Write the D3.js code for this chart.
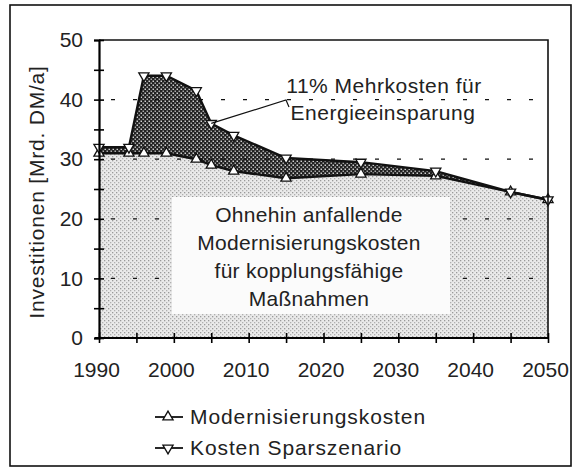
<!DOCTYPE html>
<html>
<head>
<meta charset="utf-8">
<script src="https://cdn.jsdelivr.net/npm/d3@7"></script>
<style>
  body { margin: 0; background: #fff; }
  text { font-family: "Liberation Sans", Arial, sans-serif; fill: #222; }
</style>
</head>
<body>
<svg width="573" height="468"></svg>
<script>
// values
var years = [1990, 1994, 1996, 1999, 2003, 2005, 2008, 2015, 2025, 2035, 2045, 2050];
var modernisierung = [31, 31, 31, 31, 30, 29, 28, 26.8, 27.5, 27.2, 24.5, 23.2];
var sparszenario = [32, 32, 44, 44, 41.5, 36, 34, 30.2, 29.5, 28, 24.5, 23.2];
var yTicks = [0, 10, 20, 30, 40, 50];
var xTicks = [1990, 2000, 2010, 2020, 2030, 2040, 2050];
var seriesNames = ['Modernisierungskosten', 'Kosten Sparszenario'];

var FONT = '"Liberation Sans", Arial, sans-serif';
var svg = d3.select('svg');

var x = d3.scaleLinear().domain([1990, 2050]).range([99, 548]);
var y = d3.scaleLinear().domain([0, 50]).range([338, 40]);

var data = years.map((yr, i) => ({year: yr, mod: modernisierung[i], spar: sparszenario[i]}));

// patterns
var defs = svg.append('defs');
var light = defs.append('pattern').attr('id', 'light')
    .attr('width', 4).attr('height', 4).attr('patternUnits', 'userSpaceOnUse');
light.append('rect').attr('width', 4).attr('height', 4).attr('fill', '#eaeaea');
light.append('rect').attr('x', 0).attr('y', 0).attr('width', 1.3).attr('height', 1.3).attr('fill', '#999');
light.append('rect').attr('x', 2).attr('y', 2).attr('width', 1.3).attr('height', 1.3).attr('fill', '#b0b0b0');

var dark = defs.append('pattern').attr('id', 'dark')
    .attr('width', 4).attr('height', 4).attr('patternUnits', 'userSpaceOnUse');
dark.append('rect').attr('width', 4).attr('height', 4).attr('fill', '#222');
dark.append('rect').attr('x', 0.5).attr('y', 0.5).attr('width', 1.5).attr('height', 1.5).attr('fill', '#d0d0d0');
dark.append('rect').attr('x', 2.5).attr('y', 2.5).attr('width', 1.5).attr('height', 1.5).attr('fill', '#aaa');

// outer frame
svg.append('rect')
    .attr('x', 10).attr('y', 5).attr('width', 561).attr('height', 461)
    .attr('fill', 'none').attr('stroke', '#111').attr('stroke-width', 1.6);

// lower area
svg.append('path')
    .datum(data)
    .attr('fill', 'url(#light)')
    .attr('d', d3.area().x((d) => x(d.year)).y0(y(0)).y1((d) => y(d.mod)));

// extra cost band
svg.append('path')
    .datum(data)
    .attr('fill', 'url(#dark)')
    .attr('d', d3.area().x((d) => x(d.year)).y0((d) => y(d.mod)).y1((d) => y(d.spar)));

// dashed grid
svg.append('g')
    .selectAll('line')
    .data([10, 20, 30, 40])
    .enter()
    .append('line')
        .attr('x1', x(1990)).attr('x2', x(2050))
        .attr('y1', (d) => y(d)).attr('y2', (d) => y(d))
        .attr('stroke', '#111').attr('stroke-width', 1.3)
        .attr('stroke-dasharray', '4,18')
        .attr('stroke-dashoffset', -12);

// white text box
svg.append('rect')
    .attr('x', 172).attr('y', 197).attr('width', 278).attr('height', 117)
    .attr('fill', '#fbfbfb');

// lines
var lineMod = d3.line().x((d) => x(d.year)).y((d) => y(d.mod));
var lineSpar = d3.line().x((d) => x(d.year)).y((d) => y(d.spar));
svg.append('path').datum(data).attr('d', lineMod)
    .attr('fill', 'none').attr('stroke', '#111').attr('stroke-width', 2.4);
svg.append('path').datum(data).attr('d', lineSpar)
    .attr('fill', 'none').attr('stroke', '#111').attr('stroke-width', 2.4);

var triUp = d3.symbol().type(d3.symbolTriangle).size(45);
svg.append('g').selectAll('path')
    .data(data).enter().append('path')
        .attr('d', triUp)
        .attr('transform', (d) => 'translate(' + x(d.year) + ',' + y(d.mod) + ')')
        .attr('fill', '#fff').attr('stroke', '#111').attr('stroke-width', 1.3);
svg.append('g').selectAll('path')
    .data(data).enter().append('path')
        .attr('d', triUp)
        .attr('transform', (d) => 'translate(' + x(d.year) + ',' + y(d.spar) + ') rotate(180)')
        .attr('fill', '#fff').attr('stroke', '#111').attr('stroke-width', 1.3);

// plot frame top/right
svg.append('path')
    .attr('d', 'M' + x(1990) + ',' + y(50) + 'H' + x(2050) + 'V' + y(0))
    .attr('fill', 'none').attr('stroke', '#111').attr('stroke-width', 1.6);

// axes
var yAxis = svg.append('g')
    .attr('transform', 'translate(' + x(1990) + ',0)')
    .call(d3.axisLeft(y).tickValues(d3.range(0, 51, 5)).tickSize(5).tickFormat((d) => yTicks.includes(d) ? d : ''));
yAxis.selectAll('.tick line').attr('x2', 5).attr('x1', -5).attr('stroke-width', 1.6);
yAxis.select('.domain').attr('stroke-width', 2.2);
yAxis.selectAll('text').attr('x', -16).attr('font-size', 21).attr('font-family', FONT).attr('fill', '#222');

var xAxis = svg.append('g')
    .attr('transform', 'translate(0,' + y(0) + ')')
    .call(d3.axisBottom(x).tickValues(d3.range(1990, 2051, 5)).tickSize(5).tickFormat((d) => xTicks.includes(d) ? d : ''));
xAxis.selectAll('.tick line').attr('y1', -5).attr('y2', 5).attr('stroke-width', 1.6);
xAxis.select('.domain').attr('stroke-width', 2.2).attr('d', 'M95,0H' + x(2050));
xAxis.selectAll('text').attr('y', 24).attr('dx', -3).attr('font-size', 21).attr('font-family', FONT).attr('fill', '#222');

// y label
svg.append('text')
    .attr('transform', 'translate(44,192) rotate(-90)')
    .attr('text-anchor', 'middle')
    .attr('font-size', 21)
    .attr('letter-spacing', 0.8)
    .text('Investitionen [Mrd. DM/a]');

// annotation
svg.append('path')
    .attr('d', 'M' + x(2005) + ',' + y(36) + 'L286,100 L289,107')
    .attr('fill', 'none').attr('stroke', '#111').attr('stroke-width', 1.2);
svg.append('text').attr('x', 384).attr('y', 93).attr('text-anchor', 'middle')
    .attr('font-size', 21).attr('letter-spacing', 0.5)
    .text('11% Mehrkosten für');
svg.append('text').attr('x', 383).attr('y', 120).attr('text-anchor', 'middle')
    .attr('font-size', 21).attr('letter-spacing', 0.5)
    .text('Energieeinsparung');

var boxLines = ['Ohnehin anfallende', 'Modernisierungskosten', 'für kopplungsfähige', 'Maßnahmen'];
svg.append('g').selectAll('text')
    .data(boxLines).enter().append('text')
        .attr('x', 309).attr('y', (d, i) => 222 + i * 28)
        .attr('text-anchor', 'middle').attr('font-size', 21).attr('letter-spacing', 0.3)
        .text((d) => d);

// legend
var legend = svg.append('g').selectAll('g')
    .data(seriesNames).enter().append('g')
        .attr('transform', (d, i) => 'translate(155,' + (417 + i * 31) + ')');
legend.append('line').attr('x1', 0).attr('x2', 28).attr('stroke', '#111').attr('stroke-width', 1.8);
legend.append('path')
    .attr('d', triUp)
    .attr('transform', (d, i) => 'translate(13,0)' + (i ? ' rotate(180)' : ''))
    .attr('fill', '#fff').attr('stroke', '#111').attr('stroke-width', 1.3);
legend.append('text').attr('x', 35).attr('y', 7).attr('font-size', 21).attr('letter-spacing', 0.9).text((d) => d);
</script>
</body>
</html>
